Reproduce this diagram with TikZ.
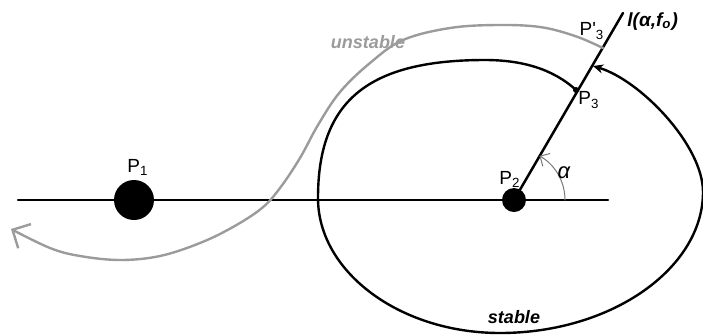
\documentclass[tikz,border=0pt]{standalone}
\usepackage{fontspec}
\setmainfont{Liberation Sans}
\usetikzlibrary{arrows.meta}
\definecolor{orbitgray}{RGB}{155,155,155}
\definecolor{arcgray}{RGB}{120,120,120}

\begin{document}
\begin{tikzpicture}[x=0.5pt,y=-0.5pt,line cap=round,
  axisl/.style={line width=1.25pt},
  orbit/.style={line width=1.2pt},
  body/.style={circle,fill,inner sep=0pt},
  lbl/.style={font=\fontsize{9.5}{11}\selectfont,inner sep=0pt},
  tag/.style={font=\fontsize{9}{11}\selectfont\bfseries\itshape,inner sep=0pt}]
  \useasboundingbox (0,0) rectangle (703,334);
  % axis through the two primaries
  \draw[axisl] (18,200) -- (608,200);
  \node[body,minimum size=20pt] (p1) at (134,200) {};
  \node[body,minimum size=12pt] (p2) at (514,200) {};
  \node[lbl] (p1lab) at (138,167) {P\textsubscript{1}};
  \node[lbl] (p2lab) at (510,179) {P\textsubscript{2}};
  % section line l through P2
  \coordinate (lend) at (623,13);
  \draw[axisl] (p2.center) -- (lend);
  \node[tag,anchor=west,font=\fontsize{9.5}{11}\selectfont\bfseries\itshape] (ltag) at (627,22) {l(α,f\textsubscript{o})};
  % angle alpha
  \draw[arcgray,line width=0.5pt,-{Straight Barb[length=1.3mm]}] (565,200) arc[start angle=0,end angle=-60,radius=51];
  \node[font=\fontsize{11}{12}\selectfont\itshape,inner sep=0pt] (alab) at (564,173) {α};
  % stable orbit, from P3 once round back to the line
  \coordinate (p3) at (576,90);
  \draw[orbit,-{Stealth[length=1.8mm,width=1.6mm]}] (p3)
    .. controls (552,68) and (520,60) .. (485,60)
    .. controls (368,60) and (318,101) .. (318,198)
    .. controls (318,272) and (400,333) .. (500,333)
    .. controls (612,333) and (703,268) .. (703,192)
    .. controls (703,145) and (640,80) .. (593,66);
  \fill (p3) circle[radius=3];
  \node[lbl] (p3lab) at (589,100) {P\textsubscript{3}};
  % unstable orbit, from P3' out past P1
  \draw[orbit,orbitgray,-{Straight Barb[length=2.4mm]}] plot[smooth,tension=0.6] coordinates {
    (603,48) (575,36) (540,27) (497,25) (450,28) (403,40) (370,63) (340,92)
    (318,125) (300,158) (280,188) (262,208) (233,227) (200,243) (160,256)
    (120,260) (80,256) (50,248) (11,229)};
  \node[lbl] (p3plab) at (592,31) {P\textquotesingle\textsubscript{3}};
  % orbit names
  \node[tag,text=orbitgray] (unst) at (368,42) {unstable};
  \node[tag] (stab) at (514,317) {stable};
\end{tikzpicture}
\end{document}
